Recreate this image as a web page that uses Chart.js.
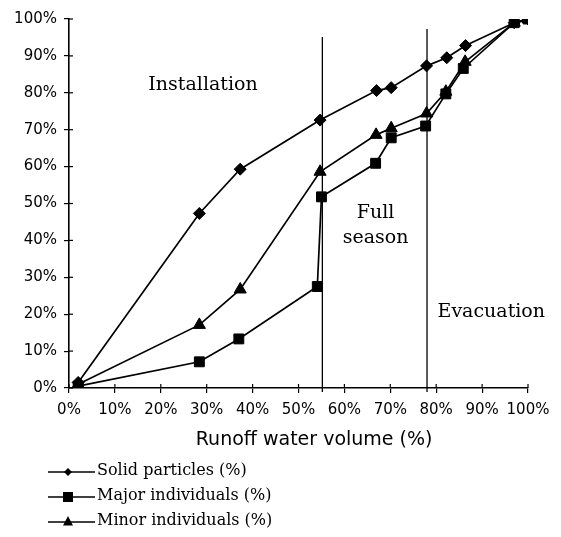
<!DOCTYPE html>
<html>
<head>
<meta charset="utf-8">
<script src="https://cdn.jsdelivr.net/npm/chart.js@4.4.0/dist/chart.umd.min.js"></script>
<style>
  html, body { margin: 0; padding: 0; background: #fff; }
  #wrap { width: 561px; height: 537px; position: relative; }
</style>
</head>
<body>
<div id="wrap"><canvas id="myChart" width="561" height="537"></canvas></div>
<script>
"use strict";

// runoff water volume (%) at each sample
var solidX = [2, 28.4, 37.3, 54.7, 67, 70.2, 77.9, 82.3, 86.4, 97, 100];
var solidY = [1.5, 47.3, 59.3, 72.6, 80.6, 81.4, 87.3, 89.5, 92.8, 99, 100];

var majorX = [2, 28.4, 37, 54.1, 55, 66.8, 70.2, 77.7, 82.1, 85.9, 97, 100];
var majorY = [0.5, 7.1, 13.3, 27.5, 51.8, 60.9, 67.8, 71, 79.7, 86.6, 99, 100];

var minorX = [2, 28.4, 37.3, 54.7, 66.9, 70.2, 77.9, 82.1, 86.3, 97, 100];
var minorY = [1, 17.1, 26.7, 58.6, 68.6, 70.4, 74.4, 80.3, 88.4, 99, 100];

var seriesNames = ['Solid particles (%)', 'Major individuals (%)', 'Minor individuals (%)'];
var seriesShapes = ['rectRot', 'rect', 'triangle'];
var xTitle = 'Runoff water volume (%)';

// season boundaries (x) and how high the lines reach (y)
var phaseX = [55.2, 78];
var phaseTop = [95.1, 97.3];
var phaseLabels = [
    { text: ['Installation'], x: 29.2, y: 82 },
    { text: ['Full', 'season'], x: 66.8, y: 47.4 },
    { text: ['Evacuation'], x: 92, y: 20.6 }
];

var ticksPct = [0, 10, 20, 30, 40, 50, 60, 70, 80, 90, 100];

function toPoints(xs, ys) {
    return xs.map(function (x, i) { return { x: x, y: ys[i] }; });
}

var serif = '"DejaVu Serif", "Liberation Serif", serif';
var sans = '"DejaVu Sans", "Liberation Sans", sans-serif';

var phasePlugin = {
    id: 'phases',
    afterDatasetsDraw: function (chart) {
        var ctx = chart.ctx;
        var xs = chart.scales.x, ys = chart.scales.y;
        ctx.save();
        ctx.strokeStyle = '#000';
        ctx.lineWidth = 1.3;
        phaseX.forEach(function (v, i) {
            var px = xs.getPixelForValue(v);
            ctx.beginPath();
            ctx.moveTo(px, ys.getPixelForValue(phaseTop[i]));
            ctx.lineTo(px, ys.getPixelForValue(0) + 4);
            ctx.stroke();
        });
        // inward half of the crossing tick marks
        ctx.lineWidth = 1.2;
        ticksPct.forEach(function (t) {
            var py = ys.getPixelForValue(t);
            ctx.beginPath();
            ctx.moveTo(xs.left, py);
            ctx.lineTo(xs.left + 4, py);
            ctx.stroke();
            var px = xs.getPixelForValue(t);
            ctx.beginPath();
            ctx.moveTo(px, ys.bottom);
            ctx.lineTo(px, ys.bottom - 4);
            ctx.stroke();
        });
        ctx.fillStyle = '#000';
        ctx.font = '19px ' + serif;
        ctx.textAlign = 'center';
        ctx.textBaseline = 'middle';
        phaseLabels.forEach(function (l) {
            var px = xs.getPixelForValue(l.x);
            var py = ys.getPixelForValue(l.y);
            l.text.forEach(function (line, k) {
                ctx.fillText(line, px, py + k * 25);
            });
        });
        // axis title sits a little right of the axis centre in the original
        ctx.font = '19px ' + sans;
        ctx.fillText(xTitle, xs.getPixelForValue(53.4), ys.bottom + 52);
        ctx.restore();
    }
};

function drawMarker(ctx, shape, x, y, r) {
    ctx.beginPath();
    if (shape === 'rectRot') {
        ctx.moveTo(x, y - r); ctx.lineTo(x + r, y); ctx.lineTo(x, y + r); ctx.lineTo(x - r, y);
    } else if (shape === 'rect') {
        ctx.rect(x - r, y - r, 2 * r, 2 * r);
    } else {
        ctx.moveTo(x, y - r * 1.2); ctx.lineTo(x + r, y + r * 0.7); ctx.lineTo(x - r, y + r * 0.7);
    }
    ctx.closePath();
    ctx.fill();
}

var legendPlugin = {
    id: 'vlegend',
    afterDraw: function (chart) {
        var ctx = chart.ctx;
        ctx.save();
        ctx.strokeStyle = '#000';
        ctx.fillStyle = '#000';
        ctx.lineWidth = 1.5;
        ctx.font = '16px ' + serif;
        ctx.textBaseline = 'middle';
        ctx.textAlign = 'left';
        seriesNames.forEach(function (name, i) {
            var y = 472 + i * 25;
            ctx.beginPath();
            ctx.moveTo(48, y);
            ctx.lineTo(95, y);
            ctx.stroke();
            drawMarker(ctx, seriesShapes[i], 68, y, i === 0 ? 4 : 5);
            ctx.fillText(name, 97, y - 1);
        });
        ctx.restore();
    }
};

function makeSet(label, pts, shape, radius) {
    return {
        label: label,
        data: pts,
        borderColor: '#000',
        backgroundColor: '#000',
        borderWidth: 1.7,
        pointStyle: shape,
        pointRadius: radius,
        pointBorderWidth: 1,
        tension: 0
    };
}

var axisOpts = function () {
    return {
        type: 'linear',
        min: 0,
        max: 100,
        grid: { drawOnChartArea: false, drawTicks: true, tickLength: 5, color: '#000', lineWidth: 1.2 },
        border: { display: true, color: '#000', width: 1.6 },
        ticks: {
            stepSize: 10,
            color: '#000',
            padding: 8,
            maxRotation: 0,
            minRotation: 0,
            autoSkip: false,
            font: { family: sans, size: 15 },
            callback: function (v) { return v + '%'; }
        }
    };
};

var xAxis = axisOpts();
xAxis.afterFit = function (s) { s.height = 67; };
var yAxis = axisOpts();
yAxis.ticks.padding = 7;
yAxis.afterFit = function (s) { s.width = 69; };

var salesChart = new Chart(document.getElementById('myChart'), {
    type: 'line',
    data: {
        datasets: [
            makeSet(seriesNames[0], toPoints(solidX, solidY), seriesShapes[0], 6),
            makeSet(seriesNames[1], toPoints(majorX, majorY), seriesShapes[1], 7),
            makeSet(seriesNames[2], toPoints(minorX, minorY), seriesShapes[2], 7)
        ]
    },
    options: {
        responsive: false,
        animation: false,
        layout: { padding: { left: 0, right: 33, top: 19, bottom: 82 } },
        plugins: { legend: { display: false }, tooltip: { enabled: false } },
        scales: { x: xAxis, y: yAxis }
    },
    plugins: [phasePlugin, legendPlugin]
});
</script>
</body>
</html>
